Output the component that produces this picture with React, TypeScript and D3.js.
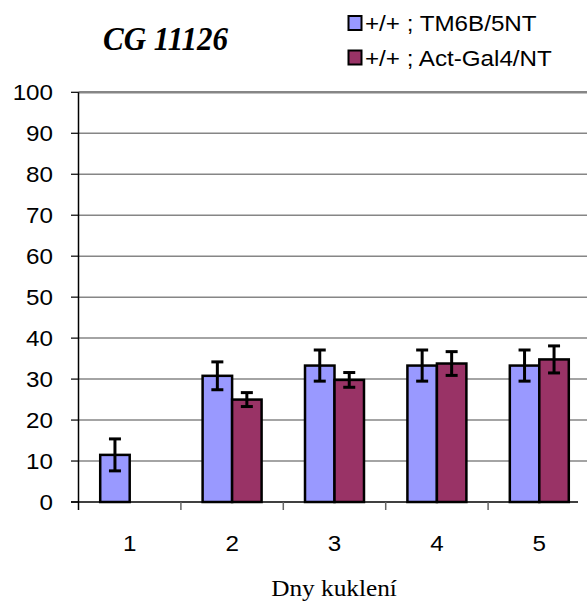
import { scaleBand, scaleLinear, range } from "d3";

const days = ["1", "2", "3", "4", "5"];
const seriesNames = ["+/+ ; TM6B/5NT", "+/+ ; Act-Gal4/NT"];
const tm6bValues = [11.5, 30.8, 33.3, 33.3, 33.3];
const tm6bErrors = [3.9, 3.4, 3.8, 3.8, 3.8];
const actValues = [null, 25, 29.8, 33.8, 34.8];
const actErrors = [null, 1.7, 1.8, 2.9, 3.3];
const yTicks = range(0, 101, 10);
const colors = ["#9999FF", "#993366"];

function Txt({ x, y, anchor = "start", size, family, weight, italic, sx = 1.1, children }: any) {
  return (
    <text
      transform={`translate(${x},${y}) scale(${sx},1)`}
      textAnchor={anchor}
      fontSize={size}
      fontFamily={family}
      fontWeight={weight}
      fontStyle={italic ? "italic" : "normal"}
      fill="#000"
    >
      {children}
    </text>
  );
}

export default function App() {
  const left = 78.5;
  const x = scaleBand<string>().domain(days).range([left, 590.5]).paddingInner(0.424).paddingOuter(0.212);
  const xs = scaleBand<number>().domain([0, 1]).range([0, x.bandwidth()]);
  const y = scaleLinear().domain([0, 100]).range([502, 92.3]);
  const step = x.step();
  const sans = "Liberation Sans, Arial, sans-serif";
  const serif = "Liberation Serif, Times New Roman, serif";

  const series = [
    { values: tm6bValues, errors: tm6bErrors },
    { values: actValues, errors: actErrors },
  ];

  return (
    <svg width={587} height={603} style={{ position: "absolute", left: 0, top: 0, background: "#fff" }}>
      {/* gridlines */}
      {yTicks.map((t) =>
        t === 0 ? null : (
          <line key={t} x1={left} x2={587} y1={y(t)} y2={y(t)} stroke="#868686" strokeWidth={t === 100 ? 2.5 : 1.5} />
        )
      )}
      {/* y axis */}
      <line x1={left} x2={left} y1={y(100)} y2={510} stroke="#000" strokeWidth={1.5} />
      {yTicks.map((t) => (
        <g key={t}>
          <line x1={71} x2={left} y1={y(t)} y2={y(t)} stroke="#000" strokeWidth={1.2} />
          <Txt x={53} y={y(t) + 8} anchor="end" size={22} family={sans}>
            {t}
          </Txt>
        </g>
      ))}
      {/* bars */}
      {series.map((s, si) =>
        days.map((d, i) => {
          const v = s.values[i];
          if (v == null) return null;
          const bx = (x(d) as number) + (xs(si) as number);
          return (
            <rect
              key={`${si}-${d}`}
              x={bx}
              y={y(v)}
              width={xs.bandwidth()}
              height={y(0) - y(v)}
              fill={colors[si]}
              stroke="#000"
              strokeWidth={2.5}
            />
          );
        })
      )}
      {/* error bars */}
      {series.map((s, si) =>
        days.map((d, i) => {
          const v = s.values[i];
          const e = s.errors[i];
          if (v == null || e == null) return null;
          const cx = (x(d) as number) + (xs(si) as number) + xs.bandwidth() / 2;
          return (
            <g key={`e${si}-${d}`} stroke="#000" strokeWidth={3}>
              <line x1={cx} x2={cx} y1={y(v + e)} y2={y(v - e)} />
              <line x1={cx - 6} x2={cx + 6} y1={y(v + e)} y2={y(v + e)} />
              <line x1={cx - 6} x2={cx + 6} y1={y(v - e)} y2={y(v - e)} />
            </g>
          );
        })
      )}
      {/* x axis */}
      <line x1={71} x2={578} y1={y(0)} y2={y(0)} stroke="#000" strokeWidth={1.5} />
      {days.slice(1).map((d) => (
        <line key={d} x1={(x(d) as number) - (step - x.bandwidth()) / 2} x2={(x(d) as number) - (step - x.bandwidth()) / 2} y1={y(0)} y2={510} stroke="#666" strokeWidth={1.5} />
      ))}
      {days.map((d) => (
        <Txt key={d} x={(x(d) as number) + x.bandwidth() / 2} y={551} anchor="middle" size={22} family={sans}>
          {d}
        </Txt>
      ))}
      <Txt x={334} y={596} anchor="middle" size={23} family={serif}>
        Dny kuklení
      </Txt>
      {/* title */}
      <Txt x={103} y={49.5} size={33} sx={0.94} family={serif} weight="bold" italic>
        CG 11126
      </Txt>
      {/* legend */}
      {seriesNames.map((n, i) => (
        <g key={n}>
          <rect x={348.5} y={16 + i * 34.5} width={13} height={14} fill={colors[i]} stroke="#000" strokeWidth={2} />
          <Txt x={365} y={30.7 + i * 35} size={22} family={sans}>
            {n}
          </Txt>
        </g>
      ))}
    </svg>
  );
}
